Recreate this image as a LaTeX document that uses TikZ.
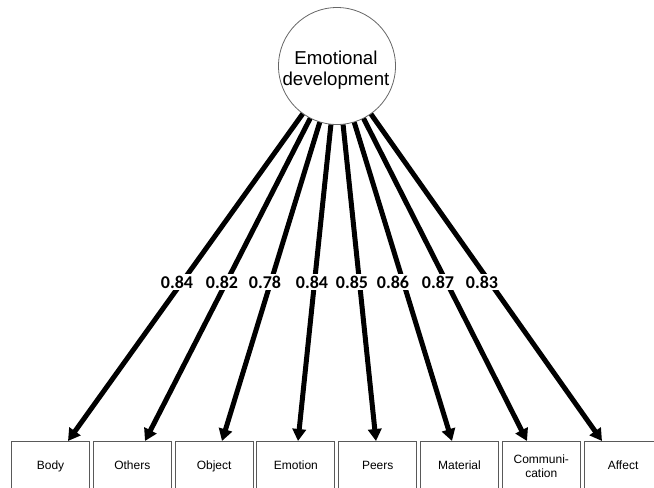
\documentclass[tikz,border=0pt]{standalone}
\usepackage{fontspec}
\setmainfont{Liberation Sans}
\newfontfamily\loadfont{Carlito}
\usepackage{tikz}
\usetikzlibrary{shapes,arrows,positioning,calc,arrows.meta}

\begin{document}
\begin{tikzpicture}[x=0.75pt,y=-0.75pt,
    factor/.style={circle, draw=black!60, line width=0.6pt, minimum size=87.75pt, inner sep=0pt},
    factortext/.style={align=center, inner sep=0pt, font=\fontsize{14}{15.5}\selectfont},
    item/.style={draw=black!65, line width=0.7pt, minimum width=58.5pt, minimum height=37.5pt,
        inner sep=1pt, align=center, font=\fontsize{9}{10.5}\selectfont},
    loading/.style={fill=white, inner sep=1pt, font=\loadfont\bfseries\fontsize{13.5}{15}\selectfont},
    path/.style={line width=3.75pt, -{Triangle[length=9pt,width=10pt]}}]
    \useasboundingbox (0,0) rectangle (654,487);

    % Latent factor
    \node[factor] (emo) at (337,66) {};
    \node[factortext] (emolabel) at (336,70) {Emotional\\development};

    % Indicators
    \foreach \i/\x/\txt in {1/50.5/\strut Body, 2/132.3/\strut Others, 3/214.1/\strut Object,
        4/295.9/\strut Emotion, 5/377.7/\strut Peers, 6/459.5/\strut Material,
        7/541.3/{Communi-\\cation}, 8/623.1/\strut Affect}
        \node[item, anchor=north] (box\i) at (\x,441) {\txt};

    % Loadings
    \foreach \i/\tx/\lx/\val in {1/68/177/0.84, 2/145/222/0.82, 3/222/265/0.78, 4/298/312/0.84,
        5/376/352/0.85, 6/452/393/0.86, 7/527/438/0.87, 8/602/482/0.83}
    {
        \coordinate (t\i) at (\tx,441);
        \draw[path] (emo) -- (t\i);
        \node[loading] (l\i) at (\lx,282) {\val};
    }
\end{tikzpicture}
\end{document}
